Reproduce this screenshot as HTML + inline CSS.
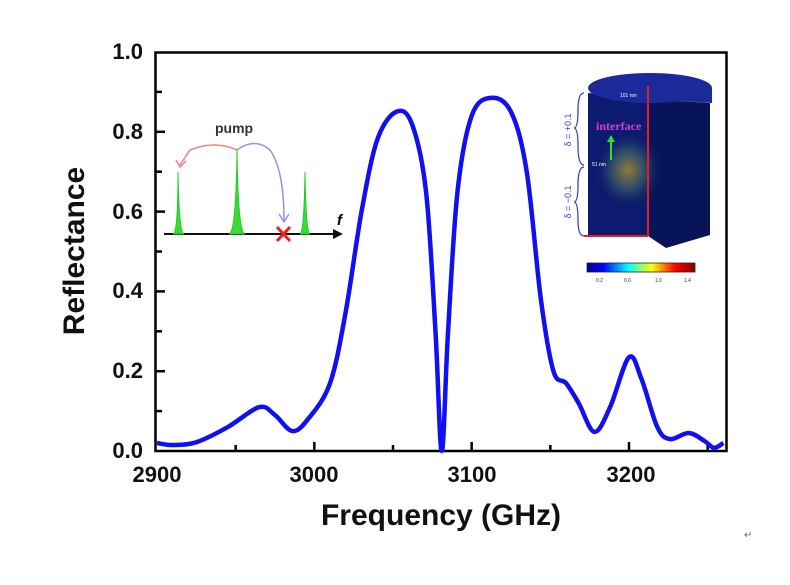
<!DOCTYPE html>
<html><head><meta charset="utf-8"><style>
body{margin:0;background:#fff;}
svg{display:block;font-family:"Liberation Sans",Arial,sans-serif;}
</style></head><body>
<svg id="s" width="790" height="585" viewBox="0 0 790 585">
<defs>
<linearGradient id="cb" x1="0" x2="1">
<stop offset="0" stop-color="#00008f"/><stop offset="0.15" stop-color="#0000ff"/><stop offset="0.38" stop-color="#00ffff"/><stop offset="0.6" stop-color="#ffff00"/><stop offset="0.82" stop-color="#ff0000"/><stop offset="1" stop-color="#800000"/>
</linearGradient>
<radialGradient id="glow" cx="0.5" cy="0.5" r="0.5">
<stop offset="0" stop-color="#8a7a3a"/><stop offset="0.5" stop-color="#2a4a6a"/><stop offset="1" stop-color="#0a1660" stop-opacity="0"/>
</radialGradient>
</defs>
<rect x="155.5" y="52.5" width="571" height="398.5" fill="none" stroke="#000" stroke-width="2.5"/>
<g stroke="#000" stroke-width="2.5" id="ticks"></g>
<g font-size="22" font-weight="bold" text-anchor="end" fill="#111">
<text x="143" y="59">1.0</text><text x="143" y="139">0.8</text><text x="143" y="219">0.6</text><text x="143" y="298">0.4</text><text x="143" y="378">0.2</text><text x="143" y="458">0.0</text>
</g>
<g font-size="22" font-weight="bold" text-anchor="middle" fill="#111">
<text x="157" y="482">2900</text><text x="314" y="482">3000</text><text x="472" y="482">3100</text><text x="631" y="482">3200</text>
</g>
<text x="441" y="525" font-size="30" font-weight="bold" text-anchor="middle" fill="#111">Frequency (GHz)</text>
<text transform="translate(84,251) rotate(-90)" font-size="30" font-weight="bold" text-anchor="middle" fill="#111">Reflectance</text>
<path id="curve" fill="none" stroke="#1010f0" stroke-width="4.5" stroke-linejoin="round"/>
<g>
<line x1="164" y1="234" x2="335" y2="234" stroke="#111" stroke-width="2"/>
<polygon points="333,229 343,234 333,239" fill="#111"/>
<text x="337" y="225" font-size="15" font-style="italic" font-weight="bold">f</text>
<text x="215" y="133" font-size="14" font-weight="bold" fill="#333">pump</text>
<g fill="#3ed83e" stroke="#22cc22" stroke-width="1">
<path d="M173,234 Q178,232 178,172 Q179,232 184,234Z"/>
<path d="M229,234 Q236,232 237,150 Q238,232 245,234Z"/>
<path d="M300,234 Q304,232 305,172 Q306,232 310,234Z"/>
</g>
<path d="M237,150 Q215,140 190,150 L180,165" fill="none" stroke="#f08080" stroke-width="1.5"/>
<path d="M176,160 L180,167 L186,161" fill="none" stroke="#f08080" stroke-width="1.5"/>
<path d="M237,150 Q255,137 270,150 Q284,170 284,220" fill="none" stroke="#9090f0" stroke-width="1.5"/>
<path d="M279,214 L284,222 L289,214" fill="none" stroke="#9090f0" stroke-width="1.5"/>
<path d="M277,227 L290,241 M290,227 L277,241" stroke="#e82020" stroke-width="3"/>
</g>
<g>
<path d="M588,93 L588,236 L648,236 L648,99 Z" fill="#0c1a70"/>
<path d="M648,99 L710,103 L710,235 L666,248 L648,236Z" fill="#071458"/>
<ellipse cx="650" cy="88" rx="62" ry="15" fill="#1a2a9a"/>
<path d="M588,93 L648,99 L712,103 L712,88 Z" fill="#1a2a9a"/>
<ellipse cx="628" cy="170" rx="35" ry="40" fill="url(#glow)"/>
<line x1="648" y1="86" x2="648" y2="236" stroke="#e02020" stroke-width="2"/>
<line x1="584" y1="236" x2="648" y2="236" stroke="#e02020" stroke-width="2"/>
<text x="596" y="130" font-size="12" font-weight="bold" fill="#d040d0" font-family="Liberation Serif,serif">interface</text>
<line x1="611" y1="160" x2="611" y2="140" stroke="#30e030" stroke-width="2"/>
<polygon points="607,142 611,135 615,142" fill="#30e030"/>
<text x="620" y="97" font-size="5" fill="#fff">101 nm</text>
<text x="592" y="166" font-size="5" fill="#fff">51 nm</text>
<text x="590" y="244" font-size="5" fill="#fff">40 nm</text>
<path d="M584,93 Q578,93 578,110 Q578,128 574,128 Q578,128 578,146 Q578,165 584,165" fill="none" stroke="#4040c0" stroke-width="1.3"/>
<path d="M584,167 Q578,167 578,185 Q578,202 574,202 Q578,202 578,220 Q578,236 584,236" fill="none" stroke="#4040c0" stroke-width="1.3"/>
<text transform="translate(571,130) rotate(-90)" font-size="9" fill="#4040c0" text-anchor="middle">δ = +0.1</text>
<text transform="translate(571,202) rotate(-90)" font-size="9" fill="#4040c0" text-anchor="middle">δ = −0.1</text>
<rect x="587" y="263" width="108" height="9" fill="url(#cb)" stroke="#222" stroke-width="0.8"/>
<g font-size="5" fill="#333"><text x="596" y="282">0.2</text><text x="624" y="282">0.6</text><text x="655" y="282">1.0</text><text x="684" y="282">1.4</text></g>
</g>
<text x="744" y="538" font-size="10" fill="#666">↵</text>
</svg>
<script>
var X=function(f){return 157+(f-2900)*1.5733;},Y=function(r){return 451-r*399;};
var d=[[2900,.02],[2910,.015],[2925,.022],[2945,.06],[2965,.11],[2975,.09],[2986,.05],[2996,.08],[3010,.17],[3020,.35],[3030,.6],[3040,.78],[3052,.85],[3062,.82],[3071,.65],[3077,.3],[3081,0],[3085,.3],[3091,.65],[3100,.84],[3112,.885],[3125,.85],[3135,.7],[3144,.38],[3152,.2],[3160,.17],[3168,.12],[3178,.048],[3188,.11],[3200,.235],[3208,.18],[3218,.06],[3226,.03],[3238,.045],[3248,.025],[3254,.008],[3260,.02]];
var p=d.map(function(a){return [X(a[0]),Y(a[1])];});
var s="M"+p[0][0]+","+p[0][1];
for(var i=0;i<p.length-1;i++){var a=p[Math.max(i-1,0)],b=p[i],c=p[i+1],e=p[Math.min(i+2,p.length-1)];
s+=" C"+(b[0]+(c[0]-a[0])/6)+","+(b[1]+(c[1]-a[1])/6)+" "+(c[0]-(e[0]-b[0])/6)+","+(c[1]-(e[1]-b[1])/6)+" "+c[0]+","+c[1];}
document.getElementById("curve").setAttribute("d",s);
var t="";
[2900,2950,3000,3050,3100,3150,3200,3250].forEach(function(f,i){var x=X(f);var L=i%2==0?9:6;if(x>157&&x<726)t+='<line x1="'+x+'" y1="451" x2="'+x+'" y2="'+(451-L)+'"/>';});
for(var k=1;k<10;k++){var y=Y(k/10);t+='<line x1="156" y1="'+y+'" x2="'+(k%2==0?165:162)+'" y2="'+y+'"/>';}
document.getElementById("ticks").innerHTML=t;
</script>
</body></html>
